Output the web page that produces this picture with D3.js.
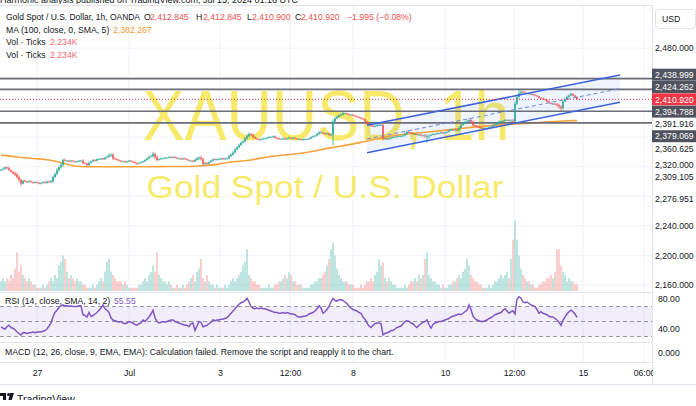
<!DOCTYPE html>
<html><head><meta charset="utf-8">
<script src="https://cdn.jsdelivr.net/npm/d3@7"></script>
<style>
body{margin:0;background:#fff;overflow:hidden}
svg{display:block}
text{font-family:"Liberation Sans",Arial,sans-serif}
</style>
</head><body><svg id="c" width="696" height="406"></svg>
<script>
// ---------------- DATA ----------------
const firstOpen = 2315;
const closes = [
2316,2317,2319,2318,2315,2313,2311,2309,2306,2302,
2297,2301,2300,2299,2300,2299,2298,2299,2298,2297,
2298,2299,2298,2300,2299,2300,2306,2310,2315,2319,
2322,2329,2328,2328,2327,2328,2327,2326,2327,2328,
2328,2325,2324,2322,2325,2327,2329,2328,2330,2330,
2331,2330,2332,2333,2335,2336,2331,2330,2329,2328,
2327,2327,2326,2327,2328,2327,2326,2325,2324,2325,
2326,2327,2329,2331,2333,2334,2337,2333,2329,2330,
2331,2331,2332,2332,2333,2332,2333,2332,2331,2331,
2330,2331,2330,2329,2328,2328,2327,2329,2331,2332,
2330,2324,2325,2324,2326,2328,2330,2329,2330,2330,
2331,2330,2331,2331,2334,2336,2339,2343,2346,2349,
2352,2354,2358,2361,2364,2363,2360,2358,2357,2356,
2357,2358,2358,2359,2360,2360,2361,2359,2358,2357,
2357,2358,2357,2358,2359,2358,2359,2358,2357,2357,
2356,2357,2357,2357,2358,2360,2361,2362,2364,2366,
2366,2365,2364,2365,2363,2363,2381,2385,2387,2389,
2390,2392,2392,2391,2390,2390,2389,2388,2387,2386,
2385,2384,2381,2378,2376,2375,2374,2375,2376,2376,
2376,2358,2358,2357,2358,2359,2360,2360,2361,2361,
2361,2362,2364,2367,2366,2365,2364,2364,2363,2363,
2362,2362,2361,2361,2362,2363,2364,2364,2365,2365,
2366,2365,2366,2367,2369,2370,2369,2370,2369,2372,
2376,2378,2380,2381,2383,2381,2376,2375,2374,2373,
2372,2372,2371,2372,2373,2374,2376,2377,2379,2381,
2381,2382,2383,2383,2382,2382,2381,2405,2414,2419,
2421,2420,2419,2419,2418,2418,2417,2416,2415,2413,
2412,2411,2410,2408,2406,2405,2405,2404,2403,2401,
2399,2408,2411,2414,2416,2418,2416,2414,2411];
const wickUp = [
1,2,1,1,2,1,1,2,3,2, 2,1,1,1,2,1,1,1,1,1, 1,1,1,1,1,2,2,2,3,2, 3,2,2,1,1,1,1,1,1,1,
1,2,1,1,2,1,1,1,1,1, 1,1,1,2,3,2,2,1,1,1, 1,1,1,1,1,1,1,1,1,1, 1,1,1,1,2,2,3,2,2,1,
1,1,1,1,1,1,1,1,1,1, 1,1,1,1,1,1,1,2,2,2, 3,2,1,1,1,1,1,1,1,1, 1,1,1,1,2,2,2,2,2,2,
2,2,2,3,2,2,1,1,1,1, 1,1,1,1,1,1,1,1,1,1, 1,1,1,1,2,1,1,1,1,1, 1,1,1,1,1,1,1,1,2,2,
2,1,1,1,1,2,3,2,2,2, 2,2,1,1,1,1,1,1,1,1, 1,1,1,1,1,1,1,1,2,2, 2,3,1,1,1,1,1,1,1,1,
1,1,2,2,1,1,1,1,1,1, 1,1,2,3,1,1,1,1,1,1, 1,1,1,1,1,1,1,1,1,2, 2,2,2,2,3,2,1,1,1,1,
1,1,1,1,1,1,1,1,1,1, 1,1,1,1,1,2,2,3,3,4, 3,2,2,1,1,1,1,1,1,1, 1,1,1,1,1,1,1,1,2,2,
2,2,2,2,2,2,1,1,1];
const wickDn = [
1,1,1,2,1,1,2,2,3,3, 3,1,1,1,1,1,1,1,1,1, 1,1,1,1,1,1,2,2,2,2, 2,2,1,1,1,1,1,1,1,1,
2,2,1,2,1,1,1,1,1,1, 1,1,1,1,1,2,2,1,1,1, 1,1,1,1,1,1,1,1,2,1, 1,1,1,1,1,1,2,3,2,1,
1,1,1,1,1,1,1,1,1,1, 1,1,1,1,1,1,1,1,1,2, 2,3,2,1,1,1,1,1,1,1, 1,1,1,1,1,1,1,1,1,1,
1,1,1,2,2,2,2,1,1,1, 1,1,1,1,1,1,1,1,1,1, 1,1,1,1,1,1,1,1,1,1, 1,1,1,1,1,1,1,1,1,1,
1,1,1,1,2,2,14,2,1,1, 1,1,1,1,1,1,1,1,1,1, 1,1,1,2,1,1,1,1,1,1, 1,3,2,1,1,1,1,1,1,1,
1,1,1,1,1,1,1,1,1,1, 1,1,2,9,3,1,1,1,1,1, 1,1,1,1,1,1,1,1,1,1, 1,1,1,1,1,2,2,1,1,1,
1,1,1,1,1,1,1,1,1,1, 1,1,1,1,1,1,2,2,2,2, 2,1,1,1,1,1,1,1,1,1, 1,1,1,1,1,1,1,1,2,3,
4,2,1,1,1,1,1,1,1];
const volumes = [
3,4,3,4,3,5,4,7,12,6, 8,5,4,3,4,3,2,2,1,1, 1,2,1,2,3,4,3,5,4,8, 9,11,10,6,4,5,4,3,4,3,
3,2,2,1,1,1,2,1,2,3, 4,3,6,9,10,6,5,4,3,3, 3,2,3,2,1,1,1,1,1,2, 2,3,4,3,5,6,8,6,12,5,
4,3,3,2,3,2,1,1,2,1, 1,2,1,2,3,4,5,3,6,7, 10,4,3,5,3,2,2,1,2,1, 1,1,2,1,2,3,4,3,4,5,
6,8,9,13,5,4,3,3,2,2, 1,1,1,1,2,1,1,2,2,3, 3,4,5,4,6,5,3,3,2,2, 2,1,1,1,1,2,2,3,3,4,
4,5,6,8,10,13,15,11,7,5, 4,3,3,3,2,2,2,1,1,1, 2,1,2,3,3,4,3,5,6,10, 8,9,4,3,4,3,2,2,1,1,
1,1,2,1,2,3,3,4,3,5, 4,5,10,12,5,4,3,3,2,2, 1,2,1,1,2,2,3,3,4,5, 4,6,7,10,8,5,4,3,3,2,
2,1,1,1,2,1,2,3,3,4, 5,4,5,6,4,10,16,22,16,11, 7,5,4,3,3,2,2,1,1,2, 2,3,3,4,4,5,4,6,13,13,
8,6,5,3,4,3,3,2,2.234];
const rsi = [
43,41,40,43,45,42,41,39,36,34, 32,35,35,34,35,35,36,35,36,36, 36,37,38,40,44,48,56,62,65,69,
71,72,71,71,70,71,70,70,70,71, 71,59,58,56,62,57,58,60,62,65, 68,72,67,65,62,55,52,51,50,49,
50,48,47,48,50,49,48,46,45,47, 48,52,50,53,56,60,65,55,50,48, 49,50,49,50,51,52,52,50,49,48,
47,46,45,45,43,47,48,38,44,50, 49,43,44,45,47,49,52,51,52,52, 53,53,54,55,58,61,64,67,70,73,
75,76,78,81,76,70,68,67,68,67, 68,67,67,66,65,64,63,62,62,61, 61,62,61,62,61,60,60,59,57,56,
56,57,57,58,60,61,62,64,67,71, 68,61,63,66,70,76,81,78,77,79, 79,78,76,74,70,68,66,65,64,62,
61,56,53,48,44,42,45,47,48,48, 47,32,34,35,36,38,38,40,42,43, 44,47,50,51,50,48,47,44,42,45,
47,49,50,52,46,41,46,48,49,50, 50,51,52,53,54,56,57,58,59,60, 59,61,63,65,72,66,57,54,52,51,
50,50,51,52,54,55,57,59,60,61, 62,65,67,64,61,63,64,60,80,83, 81,76,75,76,74,72,71,70,66,61,
63,61,60,59,57,56,56,54,52,49, 45,52,56,60,63,65,63,60,55.55];
const maIdx = [0,8,16,24,30,34,38,45,60,80,95,100,108,116,125,133,150,166,175,182,198,215,231,248,264,281,288];
const maVal = [2335.5,2333,2331,2329,2325.5,2322.5,2320.5,2319.8,2319.8,2320,2320.2,2321,2323,2326.5,2329,2333,2338,2346,2350,2354,2362.5,2367,2371.8,2376,2378.5,2381.6,2382.267];
const timeLabels = ["27","Jul","3","12:00","8","10","12:00","15","06:00"];
const timeIdx = [18,64,109.5,144.5,176,222,256.5,291,321.5];
const priceTicks = [2480,2440,2400,2360,2320,2280,2240,2200,2160];
const priceTickLabels = [2480,2320,2240,2200,2160];
const levelPrices = [2438.999,2424.262,2394.788,2379.069];
const plainLevels = [2391.916,2360.625,2309.105,2276.951];
const lastPrice = 2410.920;
const channelIdx = [183,309.5];
const channelUpper = [2375.8,2443.8];
const channelLower = [2338.8,2406.9];
const rsiBands = [70,50,30];

// ---------------- SETUP ----------------
const svg = d3.select("#c");
const PR = 652;
const x = d3.scaleLinear().domain([0,288]).range([1,577]);
const y = d3.scaleLinear().domain([2160,2480]).range([285,48.2]);
const yv = d3.scaleLinear().domain([0,24]).range([291,214]);
const yr = d3.scaleLinear().domain([40,80]).range([329,299]);
const fmt = d3.format(",.3f");
const UP="#26a69a", DN="#ef5350";

svg.append("defs").append("clipPath").attr("id","plot").append("rect").attr("x",0).attr("y",5).attr("width",PR).attr("height",287);
svg.select("defs").append("clipPath").attr("id","rsiclip").append("rect").attr("x",0).attr("y",292).attr("width",PR).attr("height",50);

const bars = closes.map((c,i)=>{
  const o = i===0 ? firstOpen : closes[i-1];
  return {i,o,c,h:Math.max(o,c)+wickUp[i],l:Math.min(o,c)-wickDn[i],v:volumes[i],r:rsi[i]};
});

// top publish text (cut off at the top edge, as in the reference)
svg.append("text").attr("x",0).attr("y",3).attr("font-size",9).attr("fill","#131722")
  .text("Harmonic analysis published on TradingView.com, Jul 15, 2024 01:16 UTC");
svg.append("rect").attr("x",0).attr("y",4).attr("width",696).attr("height",402).attr("fill","#fff");

// grid
const grid = svg.append("g");
grid.selectAll("line.v").data(timeIdx).join("line")
  .attr("x1",d=>x(d)).attr("x2",d=>x(d)).attr("y1",5).attr("y2",362)
  .attr("stroke","#f0f3fa").attr("stroke-width",1);
grid.selectAll("line.h").data(priceTicks).join("line")
  .attr("x1",0).attr("x2",PR).attr("y1",d=>y(d)).attr("y2",d=>y(d))
  .attr("stroke","#f0f3fa").attr("stroke-width",1);

// pane borders
const seps=[5,292,342,362,384];
svg.selectAll("line.sep").data(seps).join("line")
  .attr("x1",0).attr("x2",696).attr("y1",d=>d+0.5).attr("y2",d=>d+0.5)
  .attr("stroke","#e0e3eb").attr("stroke-width",1);
svg.append("line").attr("x1",PR+0.5).attr("x2",PR+0.5).attr("y1",5).attr("y2",384).attr("stroke","#e0e3eb");

// watermark
const wm = svg.append("g").attr("fill","#f7ea6a").attr("text-anchor","middle");
wm.append("text").attr("x",326).attr("y",140).attr("font-size",70)
  .attr("textLength",367).attr("lengthAdjust","spacingAndGlyphs").text("XAUUSD, 1h");
wm.append("text").attr("x",325).attr("y",198).attr("font-size",31)
  .attr("textLength",357).attr("lengthAdjust","spacingAndGlyphs").text("Gold Spot / U.S. Dollar");

const plot = svg.append("g").attr("clip-path","url(#plot)");

// volume
plot.selectAll("rect.vol").data(bars).join("rect")
  .attr("x",d=>x(d.i)-0.7).attr("width",1.4)
  .attr("y",d=>yv(d.v)).attr("height",d=>yv(0)-yv(d.v))
  .attr("fill",d=>d.c>=d.o?"rgba(38,166,154,0.42)":"rgba(239,83,80,0.4)");

// channel fill
const chPoly = [[x(channelIdx[0]),y(channelUpper[0])],[x(channelIdx[1]),y(channelUpper[1])],
                [x(channelIdx[1]),y(channelLower[1])],[x(channelIdx[0]),y(channelLower[0])]];
plot.append("path").attr("d","M"+chPoly.join("L")+"Z").attr("fill","rgba(41,98,255,0.07)");

// MA
plot.append("path").datum(maIdx.map((d,k)=>[d,maVal[k]]))
  .attr("d",d3.line().x(d=>x(d[0])).y(d=>y(d[1])).curve(d3.curveMonotoneX))
  .attr("fill","none").attr("stroke","#f7a23b").attr("stroke-width",1.6);

// horizontal levels
plot.selectAll("line.lvl").data(levelPrices).join("line")
  .attr("x1",0).attr("x2",PR).attr("y1",d=>y(d)).attr("y2",d=>y(d))
  .attr("stroke","#6b6e78").attr("stroke-width",1.7);

// candles
const cg = plot.append("g");
cg.selectAll("line").data(bars).join("line")
  .attr("x1",d=>x(d.i)).attr("x2",d=>x(d.i)).attr("y1",d=>y(d.h)).attr("y2",d=>y(d.l))
  .attr("stroke",d=>d.c>=d.o?UP:DN).attr("stroke-width",0.8);
cg.selectAll("rect").data(bars).join("rect")
  .attr("x",d=>x(d.i)-0.75).attr("width",1.5)
  .attr("y",d=>y(Math.max(d.o,d.c))).attr("height",d=>Math.max(0.8,Math.abs(y(d.o)-y(d.c))))
  .attr("fill",d=>d.c>=d.o?UP:DN);

// channel lines
const chg = plot.append("g").attr("fill","none");
[channelUpper,channelLower].forEach(arr=>{
  chg.append("line").attr("x1",x(channelIdx[0])).attr("x2",x(channelIdx[1]))
    .attr("y1",y(arr[0])).attr("y2",y(arr[1])).attr("stroke","#3d63dd").attr("stroke-width",1.5);
});
chg.append("line").attr("x1",x(channelIdx[0])).attr("x2",x(channelIdx[1]))
  .attr("y1",y((channelUpper[0]+channelLower[0])/2)).attr("y2",y((channelUpper[1]+channelLower[1])/2))
  .attr("stroke","#6f88e0").attr("stroke-width",1).attr("stroke-dasharray","4,3");

// last price line
plot.append("line").attr("x1",0).attr("x2",PR).attr("y1",y(lastPrice)).attr("y2",y(lastPrice))
  .attr("stroke","#f23645").attr("stroke-width",1).attr("stroke-dasharray","1,2");

// RSI pane
const rg = svg.append("g").attr("clip-path","url(#rsiclip)");
rg.append("rect").attr("x",0).attr("width",PR).attr("y",yr(70)).attr("height",yr(30)-yr(70))
  .attr("fill","rgba(126,87,194,0.1)");
rg.selectAll("line.band").data(rsiBands).join("line")
  .attr("x1",0).attr("x2",PR).attr("y1",d=>yr(d)).attr("y2",d=>yr(d))
  .attr("stroke","#9598a1").attr("stroke-width",1).attr("stroke-dasharray","4,3");
rg.append("path").datum(bars)
  .attr("d",d3.line().x(d=>x(d.i)).y(d=>yr(d.r)))
  .attr("fill","none").attr("stroke","#7e57c2").attr("stroke-width",1.5);

// legends
const FS=8.7;
function seg(g,xp,yp,t,col,len){
  const s=g.append("text").attr("x",xp).attr("y",yp).attr("font-size",FS).attr("fill",col).text(t);
  if(len) s.attr("textLength",len).attr("lengthAdjust","spacingAndGlyphs");
}
const lg = svg.append("g");
const dark="#131722", red="#ef5350";
seg(lg,6,20,"Gold Spot / U.S. Dollar, 1h, OANDA",dark,134);
seg(lg,144,20,"O",dark); seg(lg,150,20,"2,412.845",red);
seg(lg,196,20,"H",dark); seg(lg,203,20,"2,412.845",red);
seg(lg,247,20,"L",dark); seg(lg,252,20,"2,410.900",red);
seg(lg,295,20,"C",dark); seg(lg,301,20,"2,410.920",red);
seg(lg,347,20,"\u22121.995 (\u22120.08%)",red);
seg(lg,6,32.5,"MA (100, close, 0, SMA, 5)",dark); seg(lg,113,32.5,"2,382.267","#f39a2f");
seg(lg,6,45,"Vol \u00b7 Ticks",dark); seg(lg,50,45,"2.234K","#f06a72");
seg(lg,6,57.5,"Vol \u00b7 Ticks",dark); seg(lg,50,57.5,"2.234K","#f06a72");
seg(lg,5,304,"RSI (14, close, SMA, 14, 2)",dark); seg(lg,114,304,"55.55","#7e57c2");
seg(lg,5,355,"MACD (12, 26, close, 9, EMA, EMA): Calculation failed. Remove the script and reapply it to the chart.",dark);

// time axis
const xa = svg.append("g").attr("transform","translate(0,362)")
  .call(d3.axisBottom(x).tickValues(timeIdx).tickFormat((d,k)=>timeLabels[k]).tickSize(0).tickPadding(8));
xa.select(".domain").remove();
xa.selectAll("text").attr("font-size",FS).attr("fill","#131722").attr("font-family","Liberation Sans, Arial, sans-serif");

// price axis
const pa = svg.append("g");
pa.append("rect").attr("x",PR+1).attr("y",5).attr("width",696-PR).attr("height",379).attr("fill","#fff");
let labels = [];
priceTickLabels.forEach(p=>labels.push({p,t:fmt(p),type:"tick"}));
levelPrices.forEach(p=>labels.push({p,t:fmt(p),type:"box"}));
plainLevels.forEach(p=>labels.push({p,t:fmt(p),type:"plain"}));
labels.push({p:lastPrice,t:fmt(lastPrice),type:"last"});
labels.forEach(l=>{l.y=y(l.p);});
labels.sort((a,b)=>a.y-b.y);
const G=12.3;
for(let it=0;it<400;it++){
  for(let k=0;k<labels.length-1;k++){
    const a=labels[k], b=labels[k+1], gap=b.y-a.y;
    if(gap<G){
      const need=G-gap;
      if(a.type==="last") b.y+=need;
      else if(b.type==="last") a.y-=need;
      else {a.y-=need/2; b.y+=need/2;}
    }
  }
}
labels.forEach(l=>{
  if(l.type==="box"||l.type==="last"){
    pa.append("rect").attr("x",PR).attr("y",l.y-6).attr("width",696-PR).attr("height",12)
      .attr("fill",l.type==="last"?"#f23645":"#50535e");
  }
  pa.append("text").attr("x",655).attr("y",l.y+3.2).attr("font-size",FS)
    .attr("fill",(l.type==="box"||l.type==="last")?"#fff":"#131722").text(l.t);
});
// USD box
pa.append("rect").attr("x",655.5).attr("y",9.5).attr("width",40).attr("height",19).attr("rx",3)
  .attr("fill","#fff").attr("stroke","#e0e3eb");
pa.append("text").attr("x",662).attr("y",22).attr("font-size",FS).attr("fill","#131722").text("USD");
// RSI / MACD axis labels
[[80,"80.00"],[40,"40.00"]].forEach(([v,t])=>{
  pa.append("text").attr("x",658).attr("y",yr(v)+3).attr("font-size",FS).attr("fill","#131722").text(t);
});
pa.append("text").attr("x",658).attr("y",356).attr("font-size",FS).attr("fill","#131722").text("0.000");

// bottom logo (cut)
const lo = svg.append("g");
lo.append("path").attr("d","M0,393H6V402H3V396H0Z").attr("fill","#131722");
lo.append("circle").attr("cx",8.5).attr("cy",394.5).attr("r",1.5).attr("fill","#131722");
lo.append("path").attr("d","M10,393H14L11,402H8Z").attr("fill","#131722");
lo.append("text").attr("x",17).attr("y",403).attr("font-size",10.5).attr("fill","#131722").text("TradingView");
svg.append("rect").attr("x",0).attr("y",400).attr("width",696).attr("height",6).attr("fill","#fff");
</script>
</body></html>
